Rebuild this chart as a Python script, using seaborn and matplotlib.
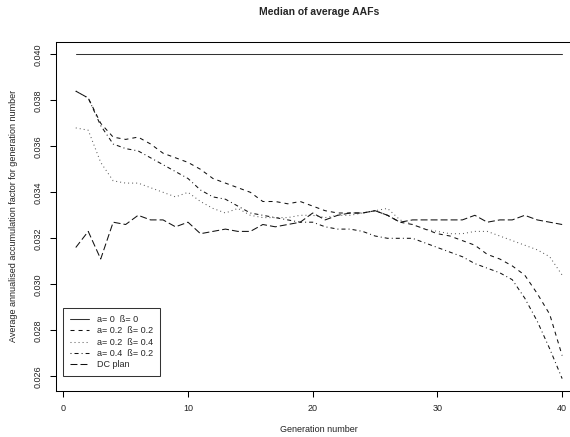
import numpy as np
import matplotlib
matplotlib.use("Agg")
import matplotlib.pyplot as plt
import seaborn as sns

# ===================== data =====================
generation = list(range(1, 41))

aaf_a0_b0 = [0.0400] * 40

aaf_a2_b2 = [0.0384, 0.0381, 0.0370, 0.0364, 0.0363, 0.0364, 0.0361, 0.0357, 0.0355, 0.0353,
             0.0350, 0.0346, 0.0344, 0.0342, 0.0340, 0.0336, 0.0336, 0.0335, 0.0336, 0.0334,
             0.0332, 0.0331, 0.0331, 0.0331, 0.0332, 0.0330, 0.0327, 0.0326, 0.0324, 0.0322,
             0.0321, 0.0319, 0.0317, 0.0313, 0.0311, 0.0308, 0.0304, 0.0296, 0.0287, 0.0269]

aaf_a2_b4 = [0.0368, 0.0367, 0.0353, 0.0345, 0.0344, 0.0344, 0.0342, 0.0340, 0.0338, 0.0340,
             0.0336, 0.0333, 0.0331, 0.0333, 0.0330, 0.0329, 0.0329, 0.0329, 0.0330, 0.0330,
             0.0329, 0.0330, 0.0330, 0.0331, 0.0332, 0.0333, 0.0328, 0.0326, 0.0324, 0.0323,
             0.0322, 0.0322, 0.0323, 0.0323, 0.0321, 0.0319, 0.0317, 0.0315, 0.0312, 0.0304]

aaf_a4_b2 = [0.0384, 0.0381, 0.0369, 0.0361, 0.0359, 0.0358, 0.0355, 0.0352, 0.0349, 0.0346,
             0.0341, 0.0338, 0.0337, 0.0334, 0.0331, 0.0330, 0.0329, 0.0328, 0.0327, 0.0327,
             0.0325, 0.0324, 0.0324, 0.0323, 0.0321, 0.0320, 0.0320, 0.0320, 0.0318, 0.0316,
             0.0314, 0.0312, 0.0309, 0.0307, 0.0305, 0.0302, 0.0294, 0.0284, 0.0272, 0.0259]

aaf_dc = [0.0316, 0.0323, 0.0311, 0.0327, 0.0326, 0.0330, 0.0328, 0.0328, 0.0325, 0.0327,
          0.0322, 0.0323, 0.0324, 0.0323, 0.0323, 0.0326, 0.0325, 0.0326, 0.0327, 0.0331,
          0.0328, 0.0330, 0.0331, 0.0331, 0.0332, 0.0330, 0.0327, 0.0328, 0.0328, 0.0328,
          0.0328, 0.0328, 0.0330, 0.0327, 0.0328, 0.0328, 0.0330, 0.0328, 0.0327, 0.0326]

series_labels = ["a= 0  ß= 0", "a= 0.2  ß= 0.2", "a= 0.2  ß= 0.4", "a= 0.4  ß= 0.2", "DC plan"]
series_values = [aaf_a0_b0, aaf_a2_b2, aaf_a2_b4, aaf_a4_b2, aaf_dc]

yticks = [0.026, 0.028, 0.030, 0.032, 0.034, 0.036, 0.038, 0.040]
xticks = [0, 10, 20, 30, 40]

# ===================== style =====================
sns.set_style("ticks")
plt.rcParams['font.family'] = ['Liberation Sans', 'DejaVu Sans']
plt.rcParams['lines.scale_dashes'] = False

# R-like line types (in points)
line_styles = [
    '-',
    (0, (2.9, 2.9)),
    (0, (0.7, 2.2)),
    (0, (0.7, 2.2, 2.9, 2.2)),
    (0, (5.0, 2.2)),
]
line_colors = ['#333333', '#111111', '#555555', '#111111', '#111111']

fig = plt.figure(figsize=(5.7, 4.37), dpi=100)
ax = fig.add_axes([56.3 / 570, (437 - 390.7) / 437, (581.6 - 56.3) / 570, (390.7 - 42) / 437])

handles = []
for label, vals, ls, col in zip(series_labels, series_values, line_styles, line_colors):
    sns.lineplot(x=generation, y=vals, ax=ax, color=col, linewidth=0.75,
                 linestyle=ls, label=label, legend=False)
    handles.append(ax.lines[-1])

ax.set_xlim(-0.56, 41.56)
ax.set_ylim(0.025374, 0.040535)
ax.set_xticks(xticks)
ax.set_yticks(yticks)
ax.set_xticklabels([str(t) for t in xticks])
ax.set_yticklabels([f"{t:.3f}" for t in yticks])
plt.setp(ax.get_yticklabels(), rotation=90, va='center')

ax.tick_params(axis='both', direction='out', length=4.3, width=0.75, labelsize=6.5,
               color='black', labelcolor='#222222')
ax.tick_params(axis='both', pad=5.5)
for sp in ax.spines.values():
    sp.set_visible(True)
    sp.set_color('black')
    sp.set_linewidth(0.75)

ax.set_xlabel('Generation number', fontsize=6.5, va='center', color='#222222')
ax.xaxis.set_label_coords(0.5, (390.7 - 430) / 348.7)
ax.set_ylabel('Average annualised accumulation factor for generation number', fontsize=6.5,
              va='center', color='#222222')
ax.yaxis.set_label_coords((13.5 - 56.3) / 525.3, 0.5)
ax.set_title('Median of average AAFs', fontsize=7.5, fontweight='bold', y=1.063, va='center')

leg = ax.legend(handles=handles, labels=series_labels, loc='lower left',
                bbox_to_anchor=((63.3 - 56.3) / 525.3, (390.7 - 376) / 348.7),
                borderaxespad=0, fontsize=6.5, frameon=True, fancybox=False,
                handlelength=2.1, handletextpad=0.9, labelspacing=0.25, borderpad=0.75)
leg.get_frame().set_edgecolor('black')
leg.get_frame().set_linewidth(0.75)

plt.savefig('out.png', dpi=100)
